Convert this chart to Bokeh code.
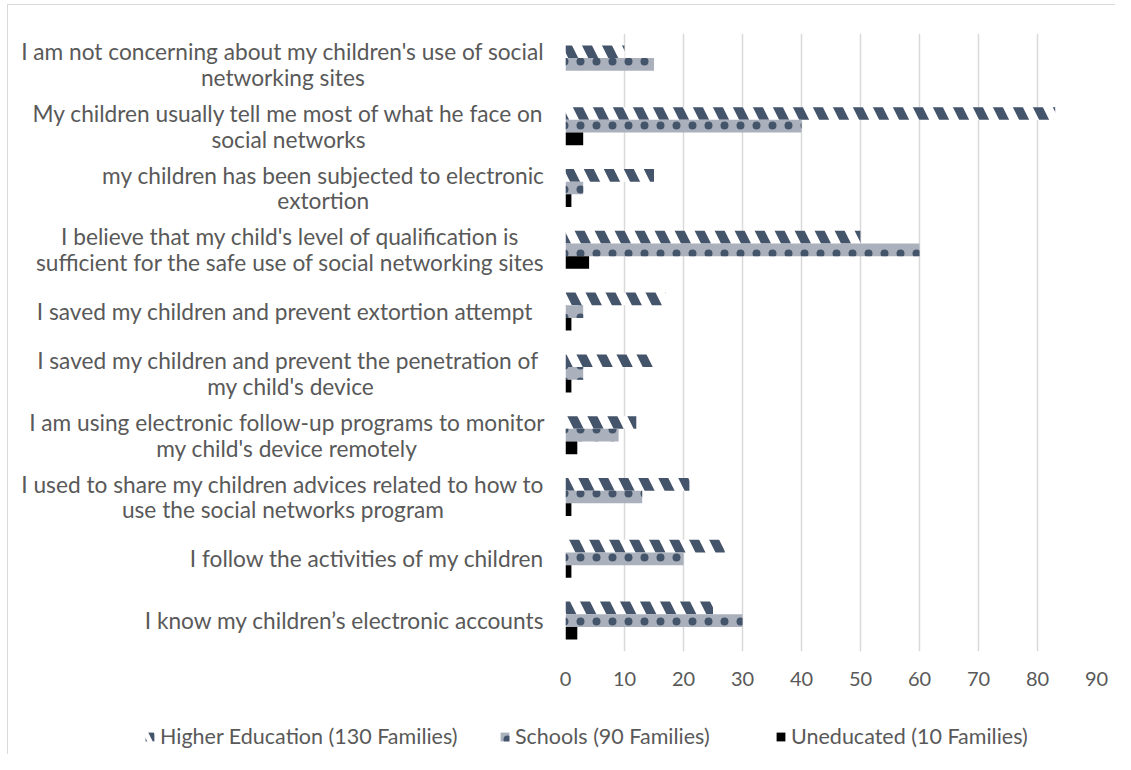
from bokeh.plotting import figure
from bokeh.models import (Range1d, FactorRange, Legend, LegendItem, FixedTicker,
                          ColumnDataSource)
from bokeh.layouts import column, row
from bokeh.transform import dodge
from bokeh.core.properties import value
from bokeh.embed import file_html
from bokeh.resources import INLINE

categories = [
    "I am not concerning about my children's use of social\nnetworking sites",
    "My children usually tell me most of what he face on\nsocial networks",
    "my children has been subjected to electronic\nextortion",
    "I believe that my child's level of qualification is\nsufficient for the safe use of social networking sites",
    "I saved my children and  prevent extortion attempt ",
    "I saved my children and  prevent the penetration of\nmy child's device",
    "I am using electronic follow-up programs to monitor\nmy child's device remotely",
    "I used to share my children advices related to how to\nuse the social networks program",
    "I follow the activities of my children",
    "I know my children\u2019s electronic accounts",
]
higher_education = [10, 83, 15, 50, 17, 15, 12, 21, 27, 25]
schools = [15, 40, 3, 60, 3, 3, 9, 13, 20, 30]
uneducated = [0, 3, 1, 4, 1, 1, 2, 1, 1, 2]
series_names = ["Higher Education (130 Families)", "Schools (90 Families)", "Uneducated (10 Families)"]
x_ticks = [0, 10, 20, 30, 40, 50, 60, 70, 80, 90]

FONT = "Lato"
TXT = "#595959"
NAVY = "#44546A"
GRID = "#d9d9d9"

H_STYLE = dict(fill_color="white", line_color=None, hatch_pattern="\\", hatch_color=NAVY,
               hatch_weight=9, hatch_scale=40)
H_SWATCH = dict(H_STYLE, hatch_weight=5, hatch_scale=22)
S_STYLE = dict(fill_color="#aab1bc", line_color=None, hatch_pattern=".", hatch_color=NAVY,
               hatch_weight=4, hatch_scale=16)
U_STYLE = dict(fill_color="black", line_color=None)

src = ColumnDataSource(dict(cat=categories, h=higher_education, s=schools, u=uneducated,
                            edge=[1] * len(categories)))
yr = FactorRange(factors=list(reversed(categories)))

TOP, BOTTOM = 28, 49
MAIN_H = 695
bh = 0.205


def bars(fig, hstyle):
    rh = fig.hbar(y=dodge("cat", bh, range=yr), right="h", left=0, height=bh, source=src, **hstyle)
    rs = fig.hbar(y=dodge("cat", 0, range=yr), right="s", left=0, height=bh, source=src, **S_STYLE)
    ru = fig.hbar(y=dodge("cat", -bh, range=yr), right="u", left=0, height=bh, source=src, **U_STYLE)
    return rh, rs, ru


# main chart
p = figure(width=559, height=MAIN_H, output_backend="svg", toolbar_location=None,
           y_range=yr, x_range=Range1d(0, 90),
           min_border_left=9, min_border_right=19, min_border_top=TOP, min_border_bottom=BOTTOM)
p.outline_line_color = None
p.yaxis.visible = False
bars(p, H_STYLE)

p.xaxis.ticker = FixedTicker(ticks=x_ticks)
p.xaxis.axis_line_color = None
p.xaxis.major_tick_line_color = None
p.xaxis.minor_tick_line_color = None
p.xaxis.major_label_text_font = FONT
p.xaxis.major_label_text_font_size = "20px"
p.xaxis.major_label_text_color = TXT
p.xaxis.major_label_standoff = 14
p.ygrid.grid_line_color = None
p.xgrid.grid_line_color = GRID
p.xgrid.grid_line_width = 1.5

# category labels (centered lines, right-anchored block)
lf = figure(width=548, height=MAIN_H, output_backend="svg", toolbar_location=None,
            y_range=yr, x_range=Range1d(0, 1),
            min_border_left=0, min_border_right=0, min_border_top=TOP, min_border_bottom=BOTTOM)
lf.outline_line_color = None
lf.axis.visible = False
lf.grid.grid_line_color = None
lf.text(x="edge", y="cat", text="cat", source=src, x_offset=-12,
        anchor=value("center_right"), text_align="center", text_baseline="middle",
        text_font=value(FONT), text_font_size="22.7px", text_color=TXT,
        text_line_height=0.95)

# legend strip (its bars lie outside the visible x range; only the legend shows)
lg = figure(width=1107, height=54, output_backend="svg", toolbar_location=None,
            x_range=Range1d(-2, -1), y_range=yr,
            min_border_left=0, min_border_right=0, min_border_top=0, min_border_bottom=0)
lg.outline_line_color = None
lg.axis.visible = False
lg.grid.grid_line_color = None
d_rs = bars(lg, H_SWATCH)
legend_x = [136, 491, 767]
for name, r, lx in zip(series_names, d_rs, legend_x):
    lg.add_layout(Legend(items=[LegendItem(label=name, renderers=[r])],
                         orientation="horizontal", location=(lx, 5),
                         glyph_width=11, glyph_height=11, label_standoff=5,
                         padding=0, margin=0, border_line_color=None, background_fill_alpha=0,
                         label_text_font=FONT, label_text_font_size="21.5px",
                         label_text_color=TXT), "center")

layout = column(row(lf, p), lg, margin=(4, 0, 0, 7))
layout.styles = {"border-top": "1px solid #d9d9d9", "border-left": "1px solid #d9d9d9"}
open("out.html", "w").write(file_html(layout, INLINE))
